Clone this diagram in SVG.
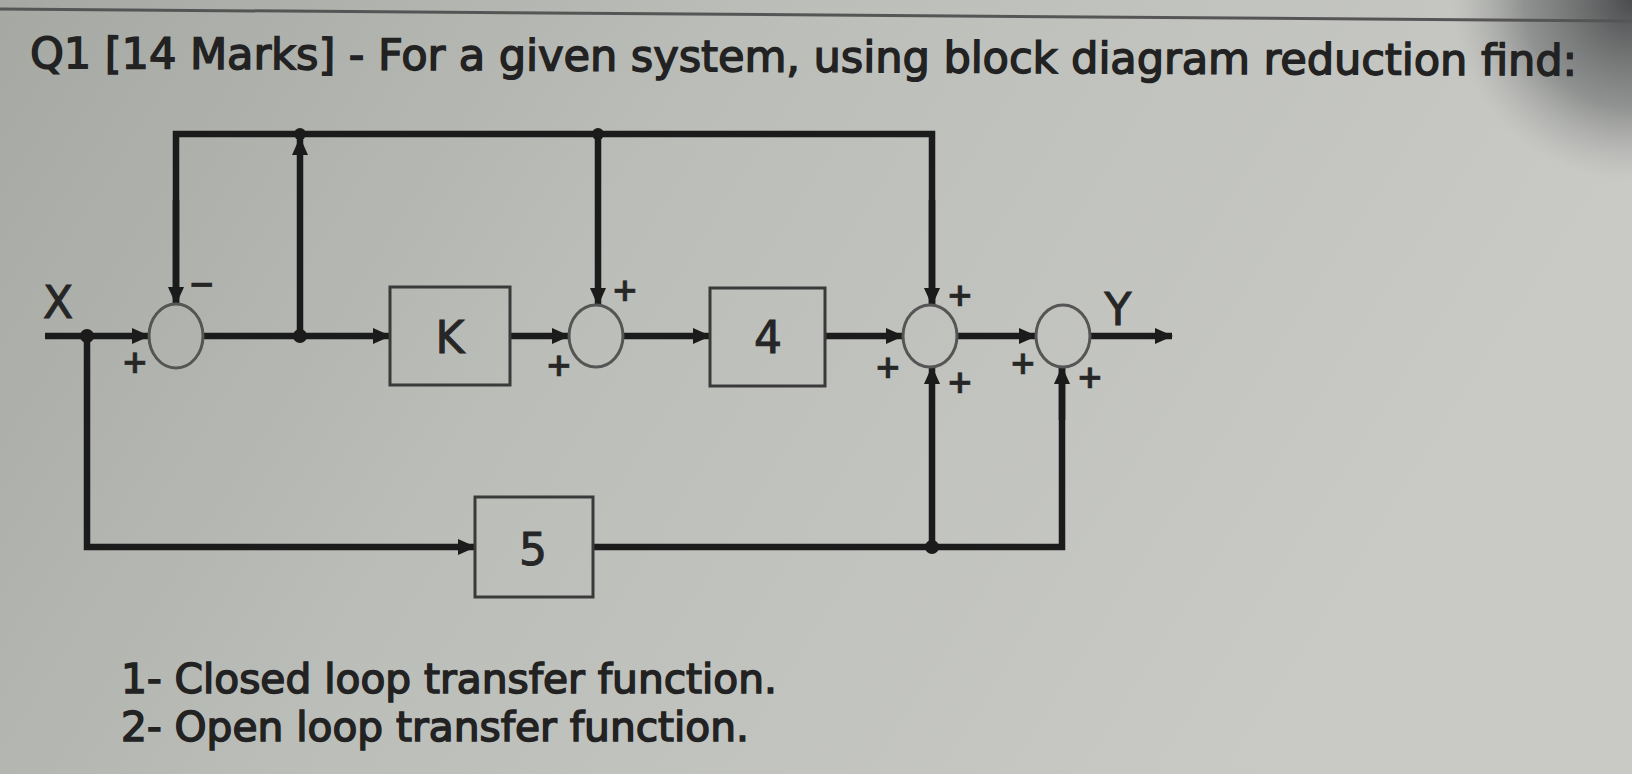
<svg xmlns="http://www.w3.org/2000/svg" width="1632" height="774" viewBox="0 0 1632 774">
  <defs>
    <linearGradient id="bg" x1="0" y1="0" x2="1" y2="0.3">
      <stop offset="0" stop-color="#a6a8a3"/>
      <stop offset="0.45" stop-color="#bcbeb9"/>
      <stop offset="1" stop-color="#c9cac6"/>
    </linearGradient>
    <radialGradient id="corner" cx="1632" cy="0" r="180" gradientUnits="userSpaceOnUse">
      <stop offset="0" stop-color="#3c3e40" stop-opacity="0.9"/>
      <stop offset="0.6" stop-color="#5a5c5e" stop-opacity="0.5"/>
      <stop offset="1" stop-color="#8a8c8c" stop-opacity="0"/>
    </radialGradient>
    <marker id="arr" markerWidth="18" markerHeight="18" refX="17" refY="9" orient="auto" markerUnits="userSpaceOnUse">
      <path d="M0,1 L18,9 L0,17 Z" fill="#1b1b1b"/>
    </marker>
  </defs>
  <style>
    .wire { fill: none; stroke: #1b1b1b; stroke-width: 6.5; stroke-linejoin: miter; }
    .blk { fill: none; stroke: #3a3a3a; stroke-width: 3; }
    .sum { fill: none; stroke: #555; stroke-width: 3; }
    .dot { fill: #1b1b1b; }
    .lbl { font-family: "DejaVu Sans", Verdana, sans-serif; fill: #262626; stroke: #262626; stroke-width: 1; text-anchor: middle; dominant-baseline: central; }
    .big { font-size: 44px; }
    .sign { font-size: 32px; font-weight: bold; stroke-width: 0.5; }
    .txt { font-family: "DejaVu Sans", Verdana, sans-serif; fill: #222; stroke: #222; stroke-width: 1.5; }
  </style>

  <rect x="0" y="0" width="1632" height="774" fill="url(#bg)"/>
  <rect x="1400" y="0" width="232" height="200" fill="url(#corner)"/>
  <line x1="0" y1="9" x2="1632" y2="21" stroke="#555" stroke-width="3"/>

  <text class="txt" x="30" y="68" font-size="43" textLength="1547" lengthAdjust="spacingAndGlyphs" transform="rotate(0.28 30 68)">Q1 [14 Marks] - For a given system, using block diagram reduction find:</text>

  <g id="connectors">
    <path class="wire" d="M45,336 L149,336" marker-end="url(#arr)"/>
    <path class="wire" d="M87,336 L87,547 L475,547" marker-end="url(#arr)"/>
    <path class="wire" d="M203,336 L390,336" marker-end="url(#arr)"/>
    <path class="wire" d="M300,336 L300,138" marker-end="url(#arr)"/>
    <path class="wire" d="M176,304 L176,134 L932,134 L932,305"/>
    <path class="wire" d="M176,200 L176,304" marker-end="url(#arr)"/>
    <path class="wire" d="M932,200 L932,305" marker-end="url(#arr)"/>
    <path class="wire" d="M598,134 L598,305" marker-end="url(#arr)"/>
    <path class="wire" d="M510,336 L569,336" marker-end="url(#arr)"/>
    <path class="wire" d="M623,336 L710,336" marker-end="url(#arr)"/>
    <path class="wire" d="M825,336 L903,336" marker-end="url(#arr)"/>
    <path class="wire" d="M957,336 L1036,336" marker-end="url(#arr)"/>
    <path class="wire" d="M1090,336 L1172,336" marker-end="url(#arr)"/>
    <path class="wire" d="M593,547 L1062,547 L1062,367"/>
    <path class="wire" d="M1062,420 L1062,367" marker-end="url(#arr)"/>
    <path class="wire" d="M932,547 L932,367" marker-end="url(#arr)"/>
    <circle class="dot" cx="87" cy="336" r="7"/>
    <circle class="dot" cx="300" cy="336" r="7"/>
    <circle class="dot" cx="300" cy="134" r="6"/>
    <circle class="dot" cx="598" cy="134" r="6"/>
    <circle class="dot" cx="932" cy="547" r="7"/>
  </g>

  <g id="sum1">
    <ellipse class="sum" cx="176" cy="336" rx="27" ry="32"/>
    <text class="lbl sign" x="202" y="284">−</text>
    <text class="lbl sign" x="135" y="362">+</text>
  </g>
  <g id="blockK">
    <rect class="blk" x="390" y="287" width="120" height="98"/>
    <text class="lbl big" x="450" y="337">K</text>
  </g>
  <g id="sum2">
    <ellipse class="sum" cx="596" cy="336" rx="27" ry="31"/>
    <text class="lbl sign" x="625" y="290">+</text>
    <text class="lbl sign" x="559" y="365">+</text>
  </g>
  <g id="block4">
    <rect class="blk" x="710" y="288" width="115" height="98"/>
    <text class="lbl big" x="768" y="337">4</text>
  </g>
  <g id="sum3">
    <ellipse class="sum" cx="930" cy="336" rx="27" ry="31"/>
    <text class="lbl sign" x="960" y="295">+</text>
    <text class="lbl sign" x="888" y="367">+</text>
    <text class="lbl sign" x="960" y="382">+</text>
  </g>
  <g id="sum4">
    <ellipse class="sum" cx="1063" cy="336" rx="27" ry="31"/>
    <text class="lbl sign" x="1023" y="363">+</text>
    <text class="lbl sign" x="1090" y="377">+</text>
  </g>
  <g id="block5">
    <rect class="blk" x="475" y="497" width="118" height="100"/>
    <text class="lbl big" x="533" y="549">5</text>
  </g>
  <g id="labels">
    <text class="lbl big" x="58" y="302">X</text>
    <text class="lbl big" x="1118" y="309">Y</text>
  </g>

  <text class="txt" x="121" y="693" font-size="40" textLength="656" lengthAdjust="spacingAndGlyphs">1- Closed loop transfer function.</text>
  <text class="txt" x="121" y="741" font-size="40" textLength="628" lengthAdjust="spacingAndGlyphs">2- Open loop transfer function.</text>
</svg>
